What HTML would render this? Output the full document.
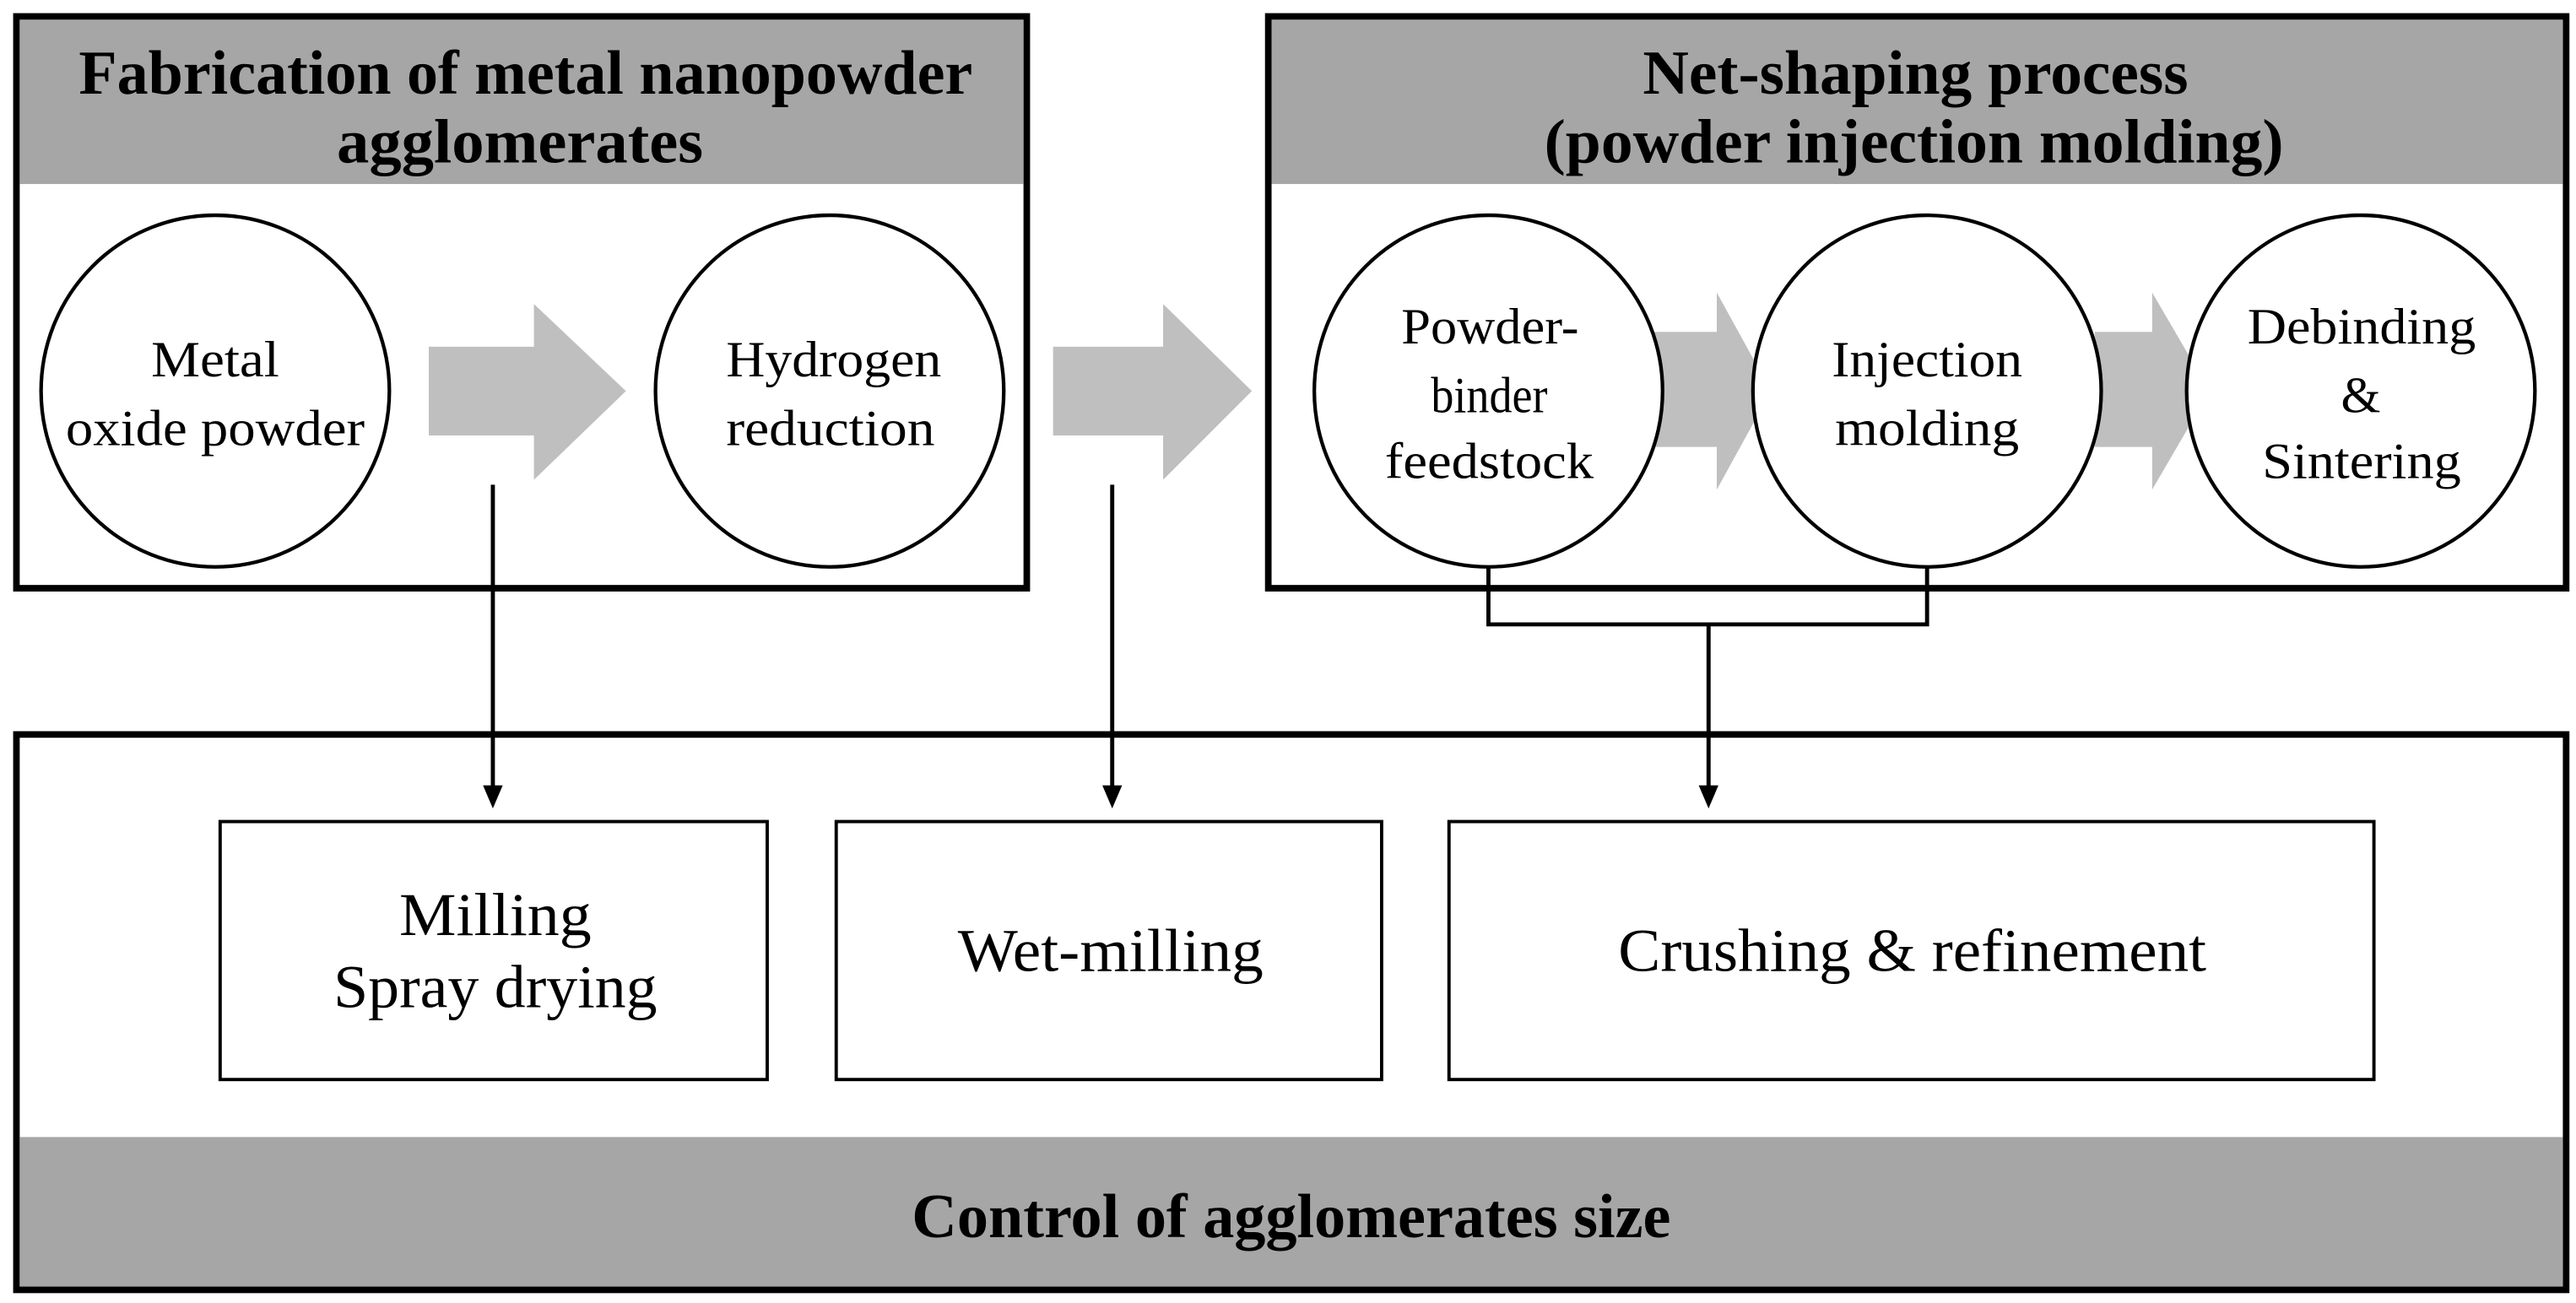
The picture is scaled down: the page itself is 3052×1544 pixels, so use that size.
<!DOCTYPE html>
<html><head><meta charset="utf-8"><style>
html,body{margin:0;padding:0;background:#fff}
svg{display:block}
text{font-family:"Liberation Serif","Times New Roman",serif;fill:#000}
.h{font-size:38px;font-weight:bold}
.c{font-size:31px}
.b{font-size:37px}
</style></head><body>
<svg width="3052" height="1544" viewBox="0 0 1568 793" preserveAspectRatio="none" xmlns="http://www.w3.org/2000/svg">
<rect x="10" y="10" width="615" height="348" fill="#fff" stroke="#000" stroke-width="4"/>
<rect x="12" y="12" width="611" height="100" fill="#a6a6a6"/>
<text class="h" x="48" y="57" textLength="544" lengthAdjust="spacingAndGlyphs">Fabrication of metal nanopowder</text>
<text class="h" x="205" y="99" textLength="223" lengthAdjust="spacingAndGlyphs">agglomerates</text>
<rect x="772" y="10" width="790" height="348" fill="#fff" stroke="#000" stroke-width="4"/>
<rect x="774" y="12" width="786" height="100" fill="#a6a6a6"/>
<text class="h" x="1000" y="57" textLength="332" lengthAdjust="spacingAndGlyphs">Net-shaping process</text>
<text class="h" x="940" y="99" textLength="450" lengthAdjust="spacingAndGlyphs">(powder injection molding)</text>
<polygon points="261,211 325,211 325,185 381,238 325,292 325,265 261,265" fill="#bfbfbf"/>
<polygon points="641,211 708,211 708,185 762,238 708,292 708,265 641,265" fill="#bfbfbf"/>
<polygon points="1005,202 1045,202 1045,178 1078,238 1045,298 1045,272 1005,272" fill="#bfbfbf"/>
<polygon points="1275,202 1310,202 1310,178 1345,238 1310,298 1310,272 1275,272" fill="#bfbfbf"/>
<g fill="#fff" stroke="#000" stroke-width="2.2">
<ellipse cx="131" cy="238" rx="106" ry="107"/>
<ellipse cx="505" cy="238" rx="106" ry="107"/>
<ellipse cx="906" cy="238" rx="106" ry="107"/>
<ellipse cx="1173" cy="238" rx="106" ry="107"/>
<ellipse cx="1437" cy="238" rx="106" ry="107"/>
</g>
<text class="c" x="92" y="229" textLength="78" lengthAdjust="spacingAndGlyphs">Metal</text>
<text class="c" x="40" y="271" textLength="182" lengthAdjust="spacingAndGlyphs">oxide powder</text>
<text class="c" x="442" y="229" textLength="131" lengthAdjust="spacingAndGlyphs">Hydrogen</text>
<text class="c" x="442" y="271" textLength="127" lengthAdjust="spacingAndGlyphs">reduction</text>
<text class="c" x="853" y="209" textLength="108" lengthAdjust="spacingAndGlyphs">Powder-</text>
<text class="c" x="871" y="251" textLength="71" lengthAdjust="spacingAndGlyphs">binder</text>
<text class="c" x="843" y="291" textLength="127" lengthAdjust="spacingAndGlyphs">feedstock</text>
<text class="c" x="1115" y="229" textLength="116" lengthAdjust="spacingAndGlyphs">Injection</text>
<text class="c" x="1117" y="271" textLength="112" lengthAdjust="spacingAndGlyphs">molding</text>
<text class="c" x="1368" y="209" textLength="139" lengthAdjust="spacingAndGlyphs">Debinding</text>
<text class="c" x="1437" y="251" text-anchor="middle">&amp;</text>
<text class="c" x="1377" y="291" textLength="121" lengthAdjust="spacingAndGlyphs">Sintering</text>
<rect x="10" y="447" width="1552" height="338" fill="#fff" stroke="#000" stroke-width="4"/>
<rect x="12" y="692" width="1548" height="91" fill="#a6a6a6"/>
<text class="h" x="555" y="753" textLength="462" lengthAdjust="spacingAndGlyphs">Control of agglomerates size</text>
<g fill="#fff" stroke="#000" stroke-width="2">
<rect x="134" y="500" width="333" height="157"/>
<rect x="509" y="500" width="332" height="157"/>
<rect x="882" y="500" width="563" height="157"/>
</g>
<text class="b" x="243" y="569" textLength="117" lengthAdjust="spacingAndGlyphs">Milling</text>
<text class="b" x="203" y="613" textLength="197" lengthAdjust="spacingAndGlyphs">Spray drying</text>
<text class="b" x="583" y="591" textLength="186" lengthAdjust="spacingAndGlyphs">Wet-milling</text>
<text class="b" x="985" y="591" textLength="358" lengthAdjust="spacingAndGlyphs">Crushing &amp; refinement</text>
<g stroke="#000" stroke-width="2.5" fill="none">
<line x1="300" y1="295" x2="300" y2="480"/>
<line x1="677" y1="295" x2="677" y2="480"/>
<polyline points="906,345 906,380 1173,380 1173,345"/>
<line x1="1040" y1="380" x2="1040" y2="480"/>
</g>
<g fill="#000">
<polygon points="294,478 306,478 300,492"/>
<polygon points="671,478 683,478 677,492"/>
<polygon points="1034,478 1046,478 1040,492"/>
</g>
</svg>
</body></html>
